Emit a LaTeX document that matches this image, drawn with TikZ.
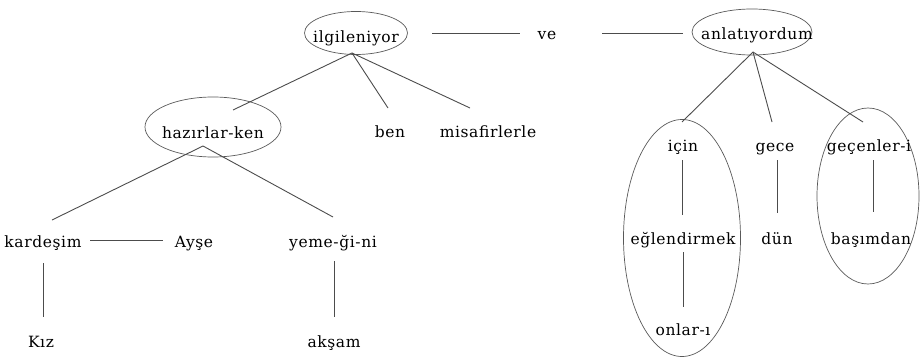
\documentclass[tikz,border=0pt]{standalone}
\usepackage{fontspec}
\setmainfont{DejaVu Serif}[LetterSpace=4]
\usetikzlibrary{shapes.geometric}
\begin{document}
\begin{tikzpicture}[x=1pt,y=-1pt,
  txt/.style={font=\fontsize{15.5}{18}\selectfont, inner sep=0pt, anchor=base, text=black},
  ln/.style={draw=black!70, line width=0.9pt},
  ov/.style={draw=black!65, line width=0.7pt, ellipse, inner sep=0pt}]
\useasboundingbox (0,0) rectangle (920,361);
% ellipses
\node[ov, minimum width=103pt, minimum height=43pt] (e-ilg) at (356,33) {};
\node[ov, minimum width=120pt, minimum height=46pt] (e-anl) at (752,32) {};
\node[ov, minimum width=136pt, minimum height=60pt] (e-haz) at (213,127) {};
\node[ov, minimum width=117pt, minimum height=237pt] (e-icin) at (682,238) {};
\node[ov, minimum width=102pt, minimum height=176pt] (e-gec) at (868,196) {};
% texts
\node[txt] (ilg) at (356,42) {ilgileniyor};
\node[txt] (ve) at (547,40) {ve};
\node[txt] (anl) at (757,40) {anlatıyordum};
\node[txt] (haz) at (213,138) {hazırlar-ken};
\node[txt] (ben) at (390,137) {ben};
\node[txt] (mis) at (488,137) {misafirlerle};
\node[txt] (kar) at (43,247) {kardeşim};
\node[txt] (ays) at (194,247) {Ayşe};
\node[txt] (yem) at (333,247) {yeme-ği-ni};
\node[txt] (kiz) at (41,347) {Kız};
\node[txt] (aks) at (334,347) {akşam};
\node[txt] (icin) at (683,151) {için};
\node[txt] (gece) at (775,151) {gece};
\node[txt] (gecen) at (869,151) {geçenler-i};
\node[txt] (egl) at (683,244) {eğlendirmek};
\node[txt] (dun) at (777,244) {dün};
\node[txt] (bas) at (871,244) {başımdan};
\node[txt] (onl) at (683,335) {onlar-ı};
% connector end points
\coordinate (apex1) at (352,53);
\coordinate (haz-up) at (233,110);
\coordinate (ben-up) at (388,108);
\coordinate (mis-up) at (470,108);
\coordinate (apex2) at (203,146);
\coordinate (kar-up) at (52,220);
\coordinate (yem-up) at (333,217);
\coordinate (apex3) at (753,52);
\coordinate (icin-up) at (682,122);
\coordinate (gece-up) at (772,122);
\coordinate (gecen-up) at (863,122);
\coordinate (ilg-r) at (432,33);
\coordinate (ve-l) at (520,33);
\coordinate (ve-r) at (602,33);
\coordinate (anl-l) at (683,33);
\coordinate (kar-r) at (90,240);
\coordinate (ays-l) at (163,240);
\coordinate (kar-dn) at (43,263);
\coordinate (kiz-up) at (43,317);
\coordinate (yem-dn) at (334,261);
\coordinate (aks-up) at (334,317);
\coordinate (icin-dn) at (682,160);
\coordinate (egl-up) at (682,215);
\coordinate (egl-dn) at (683,252);
\coordinate (onl-up) at (683,307);
\coordinate (gece-dn) at (777,160);
\coordinate (dun-up) at (777,213);
\coordinate (gecen-dn) at (873,160);
\coordinate (bas-up) at (873,212);
% connectors
\draw[ln] (apex1) -- (haz-up);
\draw[ln] (apex1) -- (ben-up);
\draw[ln] (apex1) -- (mis-up);
\draw[ln] (apex2) -- (kar-up);
\draw[ln] (apex2) -- (yem-up);
\draw[ln] (apex3) -- (icin-up);
\draw[ln] (apex3) -- (gece-up);
\draw[ln] (apex3) -- (gecen-up);
\draw[ln] (ilg-r) -- (ve-l);
\draw[ln] (ve-r) -- (anl-l);
\draw[ln] (kar-r) -- (ays-l);
\draw[ln] (kar-dn) -- (kiz-up);
\draw[ln] (yem-dn) -- (aks-up);
\draw[ln] (icin-dn) -- (egl-up);
\draw[ln] (egl-dn) -- (onl-up);
\draw[ln] (gece-dn) -- (dun-up);
\draw[ln] (gecen-dn) -- (bas-up);
\end{tikzpicture}
\end{document}
